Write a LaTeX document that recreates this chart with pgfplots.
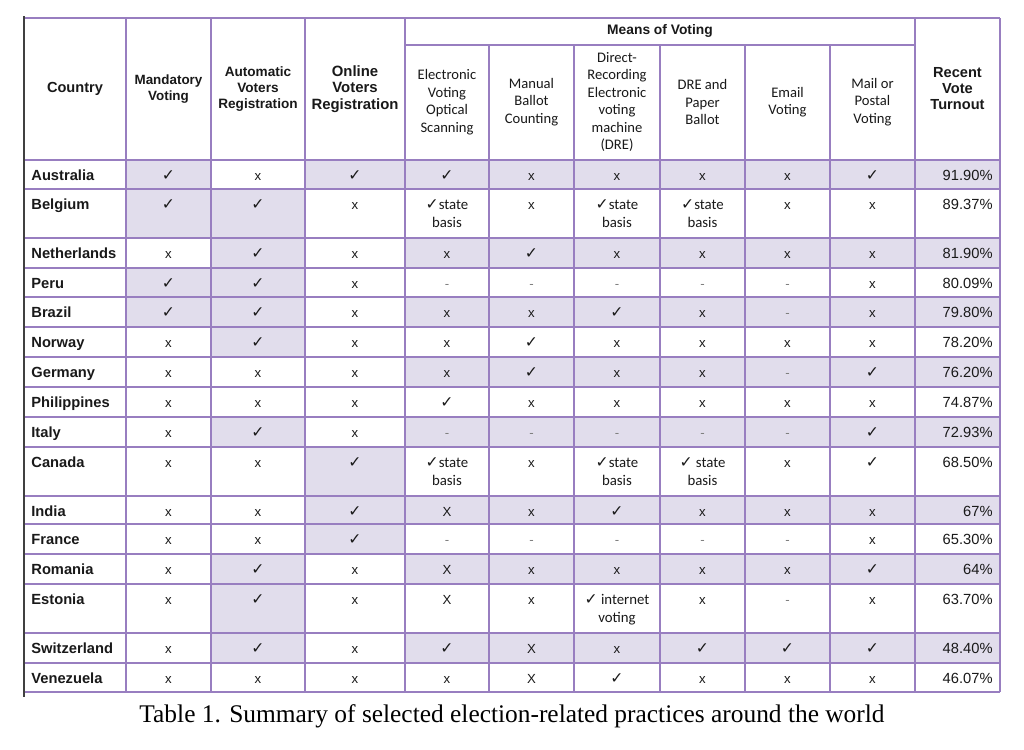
\documentclass[border=0pt]{standalone}
\usepackage{fontspec}
\setmainfont{Liberation Sans}
\newfontfamily\calfont{Carlito}
\newfontfamily\symfont{DejaVu Sans}
\newfontfamily\tnrfont{Liberation Serif}
\usepackage{pgfplots}
\pgfplotsset{compat=1.18}
\definecolor{gridpurple}{RGB}{152,126,192}
\definecolor{shade}{RGB}{225,221,236}
\definecolor{ink}{RGB}{25,25,25}

% cell contents
\newcommand\ck{{\symfont\fontsize{7.8}{8}\selectfont ✓}}
\newcommand\xx{x}
\newcommand\XX{X}
\newcommand\dd{{\color{gray}-}}
\newcommand\cf{\calfont\fontsize{7.4}{8}\selectfont}
\newcommand\st{\ck{\cf state}}
\newcommand\sts{\ck{\cf\ state}}

% drawing helpers (pixel coordinates, y downwards)
\newcommand\bx[4]{\addplot[fill=shade,draw=none] coordinates {(#1,#3)(#2,#3)(#2,#4)(#1,#4)(#1,#3)};}
\newcommand\hl[3]{\addplot[gridpurple,line width=0.75pt] coordinates {(#2,#1)(#3,#1)};}
\newcommand\vl[3]{\addplot[gridpurple,line width=0.75pt] coordinates {(#1,#2)(#1,#3)};}
\newcommand\cc[3]{\node[anchor=base,inner sep=0pt,text=ink,font=\fontsize{6.6}{8}\selectfont] at (axis cs:#1,#2) {#3};}
\newcommand\cb[3]{\node[anchor=base,inner sep=0pt,text=ink,font=\cf] at (axis cs:#1,#2) {#3};}
\newcommand\rowa[5]{%
  \node[anchor=base west,inner sep=0pt,text=ink,font=\bfseries\fontsize{7.35}{8}\selectfont] at (axis cs:31,#1) {#2};
  \cc{168.5}{#1}{#3}\cc{258}{#1}{#4}\cc{355}{#1}{#5}}
\newcommand\rowb[8]{%
  \cc{447}{#1}{#2}\cc{531.5}{#1}{#3}\cc{617}{#1}{#4}\cc{702.5}{#1}{#5}\cc{787.5}{#1}{#6}\cc{872.5}{#1}{#7}%
  \node[anchor=base east,inner sep=0pt,text=ink,font=\fontsize{7.35}{8}\selectfont] at (axis cs:993,#1) {#8};}

\begin{document}
\begin{tikzpicture}
\begin{axis}[
  width=512pt, height=375pt, scale only axis,
  xmin=0, xmax=1024, ymin=0, ymax=750, y dir=reverse,
  hide axis, clip=false,
]
% page background
\addplot[fill=white,draw=none] coordinates {(0,0)(1024,0)(1024,750)(0,750)(0,0)};

% shaded cells: means of voting + turnout on alternate rows
\bx{405}{1000}{160}{189}
\bx{405}{1000}{238}{268}
\bx{405}{1000}{297}{327}
\bx{405}{1000}{357}{387}
\bx{405}{1000}{417}{447}
\bx{405}{1000}{496}{524}
\bx{405}{1000}{554}{584}
\bx{405}{1000}{633}{663}
% mandatory voting
\bx{126}{211}{160}{238}
\bx{126}{211}{268}{327}
% automatic registration
\bx{211}{305}{189}{357}
\bx{211}{305}{417}{447}
\bx{211}{305}{554}{663}
% online registration
\bx{305}{405}{160}{189}
\bx{305}{405}{447}{554}

% grid
\hl{18}{24}{1000}
\hl{45}{405}{915}
\hl{160}{24}{1000}
\hl{189}{24}{1000}
\hl{238}{24}{1000}
\hl{268}{24}{1000}
\hl{297}{24}{1000}
\hl{327}{24}{1000}
\hl{357}{24}{1000}
\hl{387}{24}{1000}
\hl{417}{24}{1000}
\hl{447}{24}{1000}
\hl{496}{24}{1000}
\hl{524}{24}{1000}
\hl{554}{24}{1000}
\hl{584}{24}{1000}
\hl{633}{24}{1000}
\hl{663}{24}{1000}
\hl{692}{24}{1000}
\vl{126}{18}{692}
\vl{211}{18}{692}
\vl{305}{18}{692}
\vl{405}{18}{692}
\vl{489}{45}{692}
\vl{574}{45}{692}
\vl{660}{45}{692}
\vl{745}{45}{692}
\vl{830}{45}{692}
\vl{915}{18}{692}
\vl{1000}{18}{692}
\addplot[black!75,line width=0.75pt] coordinates {(24,16)(24,697)};

% header
\node[align=center,text=ink,font=\bfseries\fontsize{7.3}{8}\selectfont] at (axis cs:75,89) {Country};
\node[align=center,text=ink,font=\bfseries\fontsize{6.7}{8}\selectfont] at (axis cs:168.5,89) {Mandatory\\Voting};
\node[align=center,text=ink,font=\bfseries\fontsize{6.8}{8}\selectfont] at (axis cs:258,89) {Automatic\\Voters\\Registration};
\node[align=center,text=ink,font=\bfseries\fontsize{7.45}{8.2}\selectfont] at (axis cs:355,89) {Online\\Voters\\Registration};
\node[align=center,text=ink,font=\bfseries\fontsize{6.9}{8}\selectfont] at (axis cs:660,31) {Means of Voting};
\node[align=center,text=ink,font=\bfseries\fontsize{7.3}{8}\selectfont] at (axis cs:957.5,89) {Recent\\Vote\\Turnout};
\node[align=center,text=ink,font=\calfont\fontsize{7.3}{8.75}\selectfont] at (axis cs:447,102) {Electronic\\Voting\\Optical\\Scanning};
\node[align=center,text=ink,font=\calfont\fontsize{7.3}{8.75}\selectfont] at (axis cs:531.5,102) {Manual\\Ballot\\Counting};
\node[align=center,text=ink,font=\calfont\fontsize{7.3}{8.75}\selectfont] at (axis cs:617,102) {Direct-\\Recording\\Electronic\\voting\\machine\\(DRE)};
\node[align=center,text=ink,font=\calfont\fontsize{7.3}{8.75}\selectfont] at (axis cs:702.5,102) {DRE and\\Paper\\Ballot};
\node[align=center,text=ink,font=\calfont\fontsize{7.3}{8.75}\selectfont] at (axis cs:787.5,102) {Email\\Voting};
\node[align=center,text=ink,font=\calfont\fontsize{7.3}{8.75}\selectfont] at (axis cs:872.5,102) {Mail or\\Postal\\Voting};

% rows
\rowa{180}{Australia}{\ck}{\xx}{\ck}
\rowb{180}{\ck}{\xx}{\xx}{\xx}{\xx}{\ck}{91.90\%}
\rowa{209}{Belgium}{\ck}{\ck}{\xx}
\rowb{209}{\st}{\xx}{\st}{\st}{\xx}{\xx}{89.37\%}
\cb{447}{227}{basis}\cb{617}{227}{basis}\cb{702.5}{227}{basis}
\rowa{258}{Netherlands}{\xx}{\ck}{\xx}
\rowb{258}{\xx}{\ck}{\xx}{\xx}{\xx}{\xx}{81.90\%}
\rowa{288}{Peru}{\ck}{\ck}{\xx}
\rowb{288}{\dd}{\dd}{\dd}{\dd}{\dd}{\xx}{80.09\%}
\rowa{317}{Brazil}{\ck}{\ck}{\xx}
\rowb{317}{\xx}{\xx}{\ck}{\xx}{\dd}{\xx}{79.80\%}
\rowa{347}{Norway}{\xx}{\ck}{\xx}
\rowb{347}{\xx}{\ck}{\xx}{\xx}{\xx}{\xx}{78.20\%}
\rowa{377}{Germany}{\xx}{\xx}{\xx}
\rowb{377}{\xx}{\ck}{\xx}{\xx}{\dd}{\ck}{76.20\%}
\rowa{407}{Philippines}{\xx}{\xx}{\xx}
\rowb{407}{\ck}{\xx}{\xx}{\xx}{\xx}{\xx}{74.87\%}
\rowa{437}{Italy}{\xx}{\ck}{\xx}
\rowb{437}{\dd}{\dd}{\dd}{\dd}{\dd}{\ck}{72.93\%}
\rowa{467}{Canada}{\xx}{\xx}{\ck}
\rowb{467}{\st}{\xx}{\st}{\sts}{\xx}{\ck}{68.50\%}
\cb{447}{485}{basis}\cb{617}{485}{basis}\cb{702.5}{485}{basis}
\rowa{516}{India}{\xx}{\xx}{\ck}
\rowb{516}{\XX}{\xx}{\ck}{\xx}{\xx}{\xx}{67\%}
\rowa{544}{France}{\xx}{\xx}{\ck}
\rowb{544}{\dd}{\dd}{\dd}{\dd}{\dd}{\xx}{65.30\%}
\rowa{574}{Romania}{\xx}{\ck}{\xx}
\rowb{574}{\XX}{\xx}{\xx}{\xx}{\xx}{\ck}{64\%}
\rowa{604}{Estonia}{\xx}{\ck}{\xx}
\rowb{604}{\XX}{\xx}{\ck{\cf\ internet}}{\xx}{\dd}{\xx}{63.70\%}
\cb{617}{622}{voting}
\rowa{653}{Switzerland}{\xx}{\ck}{\xx}
\rowb{653}{\ck}{\XX}{\xx}{\ck}{\ck}{\ck}{48.40\%}
\rowa{683}{Venezuela}{\xx}{\xx}{\xx}
\rowb{683}{\xx}{\XX}{\ck}{\xx}{\xx}{\xx}{46.07\%}

% caption
\node[anchor=base,text=black,font=\tnrfont\fontsize{12.7}{14}\selectfont] at (axis cs:512,722) {Table 1. Summary of selected election-related practices around the world};
\end{axis}
\end{tikzpicture}
\end{document}
